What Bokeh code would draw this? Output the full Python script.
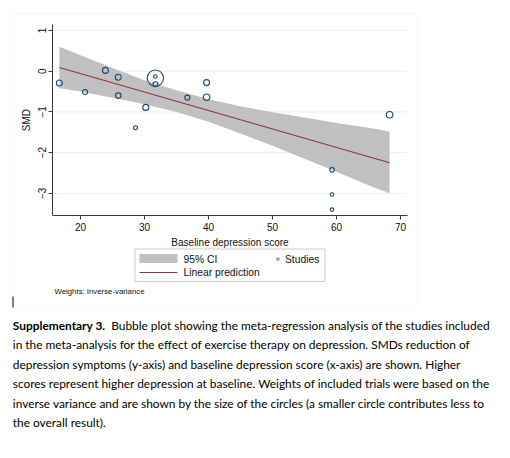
import numpy as np
from bokeh.plotting import figure
from bokeh.models import Label, BoxAnnotation, Arrow, FixedTicker, Range1d
from bokeh.embed import file_html
from bokeh.resources import INLINE

# Study-level data: baseline depression score vs. standardised mean difference
baseline_score = [16.7, 20.7, 23.9, 25.9, 25.9, 28.6, 30.2, 31.7, 31.7, 31.7,
                  36.7, 39.7, 39.7, 59.3, 59.3, 59.3, 68.3]
smd = [-0.29, -0.51, 0.02, -0.15, -0.60, -1.39, -0.89, -0.17, -0.13, -0.32,
       -0.65, -0.28, -0.64, -2.42, -3.03, -3.40, -1.07]
# inverse-variance weights (%)
weight = [4.6, 3.2, 4.6, 4.6, 3.9, 2.0, 4.6, 34.0, 1.6, 3.2,
          3.2, 4.6, 5.4, 2.6, 1.6, 1.6, 5.4]

# Meta-regression fit and its 95% confidence band
fit_x = [16.7, 68.3]
fit_y = [0.09, -2.25]
band_x = [16.7, 20, 25, 30, 35, 40, 45, 50, 55, 60, 65, 68.3]
band_upper = [0.60, 0.39, 0.08, -0.22, -0.47, -0.69, -0.86, -1.01, -1.14, -1.27, -1.39, -1.48]
band_lower = [-0.42, -0.50, -0.65, -0.81, -1.00, -1.24, -1.53, -1.83, -2.15, -2.47, -2.80, -3.00]

x_ticks = [20, 30, 40, 50, 60, 70]
y_ticks = [-3, -2, -1, 0, 1]

x_title = "Baseline depression score"
y_title = "SMD"
legend_labels = ["95% CI", "Linear prediction", "Studies"]
note = "Weights: Inverse-variance"
caption_bold = "Supplementary 3."
caption_lines = [
    "Bubble plot showing the meta-regression analysis of the studies included",
    "in the meta-analysis for the effect of exercise therapy on depression. SMDs reduction of",
    "depression symptoms (y-axis) and baseline depression score (x-axis) are shown. Higher",
    "scores represent higher depression at baseline. Weights of included trials were based on the",
    "inverse variance and are shown by the size of the circles (a smaller circle contributes less to",
    "the overall result).",
]

# page geometry (pixels): the plot area spans FL..FR horizontally and FT..FB vertically
W, H = 510, 458
FL, FR, FT, FB = 52.3, 406.7, 24, 215
X0, X1 = 15.67, 71.05
Y0, Y1 = -3.545, 1.147


def dx(px):
    return X0 + (px - FL) * (X1 - X0) / (FR - FL)


def dy(py):
    return Y1 - (py - FT) * (Y1 - Y0) / (FB - FT)


NAVY = "#1a476f"
MAROON = "#90353b"
BAND = "#c0c0c0"
AXIS = "#3a3a3a"
TXT = "#111111"
FONT = "Liberation Sans"

p = figure(width=W, height=H, x_range=Range1d(dx(0), dx(W)), y_range=Range1d(dy(H), dy(0)),
           output_backend="svg", toolbar_location=None,
           min_border_left=0, min_border_right=0, min_border_top=0, min_border_bottom=0)
p.outline_line_color = None
p.background_fill_color = "white"
p.border_fill_color = "white"

p.xaxis.fixed_location = Y0
p.xaxis.bounds = (X0, X1)
p.yaxis.fixed_location = X0
p.yaxis.bounds = (Y0, Y1)
for ax, ticks, title in ((p.xaxis[0], x_ticks, x_title), (p.yaxis[0], y_ticks, y_title)):
    ax.ticker = FixedTicker(ticks=ticks)
    ax.axis_label = title
    ax.axis_line_color = AXIS
    ax.major_tick_line_color = AXIS
    ax.major_tick_out = 4
    ax.major_tick_in = 0
    ax.minor_tick_line_color = None
    ax.major_label_text_font = FONT
    ax.major_label_text_font_size = "10px"
    ax.major_label_text_color = TXT
    ax.axis_label_text_font = FONT
    ax.axis_label_text_font_size = "10px"
    ax.axis_label_text_font_style = "normal"
    ax.axis_label_text_color = TXT
p.xaxis.major_label_standoff = 3
p.xaxis.axis_label_standoff = 3
p.yaxis.major_label_orientation = "vertical"
p.yaxis.major_label_standoff = 3
p.yaxis.axis_label_standoff = 3

p.xgrid.grid_line_color = None
p.ygrid.grid_line_color = None

# horizontal reference lines at the y ticks, limited to the plot area
p.segment(x0=[X0] * len(y_ticks), x1=[X1] * len(y_ticks), y0=y_ticks, y1=y_ticks,
          line_color="#e6eff1", line_width=1)

p.varea(x=band_x, y1=band_lower, y2=band_upper, fill_color=BAND, fill_alpha=1)
p.line(fit_x, fit_y, line_color=MAROON, line_width=1.1)
sizes = 2.8 * np.sqrt(np.array(weight))
p.scatter(baseline_score, smd, size=sizes, marker="circle", fill_color=None,
          line_color=NAVY, line_width=1.1)

# outer frame of the graph region
p.add_layout(BoxAnnotation(left=dx(12.5), right=dx(417), top=dy(13), bottom=dy(306.5),
                           fill_color=None, line_color="#e1e9ec", line_width=1, level="underlay"))

# legend
p.add_layout(BoxAnnotation(left=dx(134.5), right=dx(324.5), top=dy(248.5), bottom=dy(281),
                           fill_color="white", fill_alpha=1, line_color="#555555", line_width=1))
p.add_layout(BoxAnnotation(left=dx(139), right=dx(177), top=dy(253.5), bottom=dy(262.5),
                           fill_color=BAND, fill_alpha=1, line_color=None))
p.add_layout(Arrow(x_start=dx(139), y_start=dy(272), x_end=dx(177), y_end=dy(272),
                   start=None, end=None, line_color=MAROON, line_width=1))
p.add_layout(BoxAnnotation(left=dx(275.8), right=dx(279), top=dy(257), bottom=dy(260.2),
                           fill_color=NAVY, fill_alpha=0.45, line_color=NAVY, line_width=0.8,
                           border_radius=2))
for txt, px, py in ((legend_labels[0], 183, 258.5), (legend_labels[1], 183, 272),
                    (legend_labels[2], 284.5, 258.5)):
    p.add_layout(Label(x=dx(px), y=dy(py), text=txt, text_font=FONT, text_font_size="10.3px",
                       text_baseline="middle", text_align="left", text_color=TXT))

p.add_layout(Label(x=dx(54), y=dy(291), text=note, text_font=FONT, text_font_size="7.8px",
                   text_baseline="middle", text_align="left", text_color=TXT))

# text cursor mark
p.add_layout(Arrow(x_start=dx(12.5), y_start=dy(296), x_end=dx(12.5), y_end=dy(307),
                   start=None, end=None, line_color="black", line_width=1))

# caption
CAP_FONT = "Lato"
CAP_SIZE = "11.9px"
line_y = [325, 344.3, 364, 383.3, 402.7, 422]
p.add_layout(Label(x=dx(12.3), y=dy(line_y[0]), text=caption_bold, text_font=CAP_FONT,
                   text_font_size=CAP_SIZE, text_font_style="bold", text_baseline="middle",
                   text_color="black"))
for i, txt in enumerate(caption_lines):
    px = 110.7 if i == 0 else 12.3
    p.add_layout(Label(x=dx(px), y=dy(line_y[i]), text=txt, text_font=CAP_FONT,
                       text_font_size=CAP_SIZE, text_baseline="middle", text_color="black"))

open("out.html", "w").write(file_html(p, INLINE))
